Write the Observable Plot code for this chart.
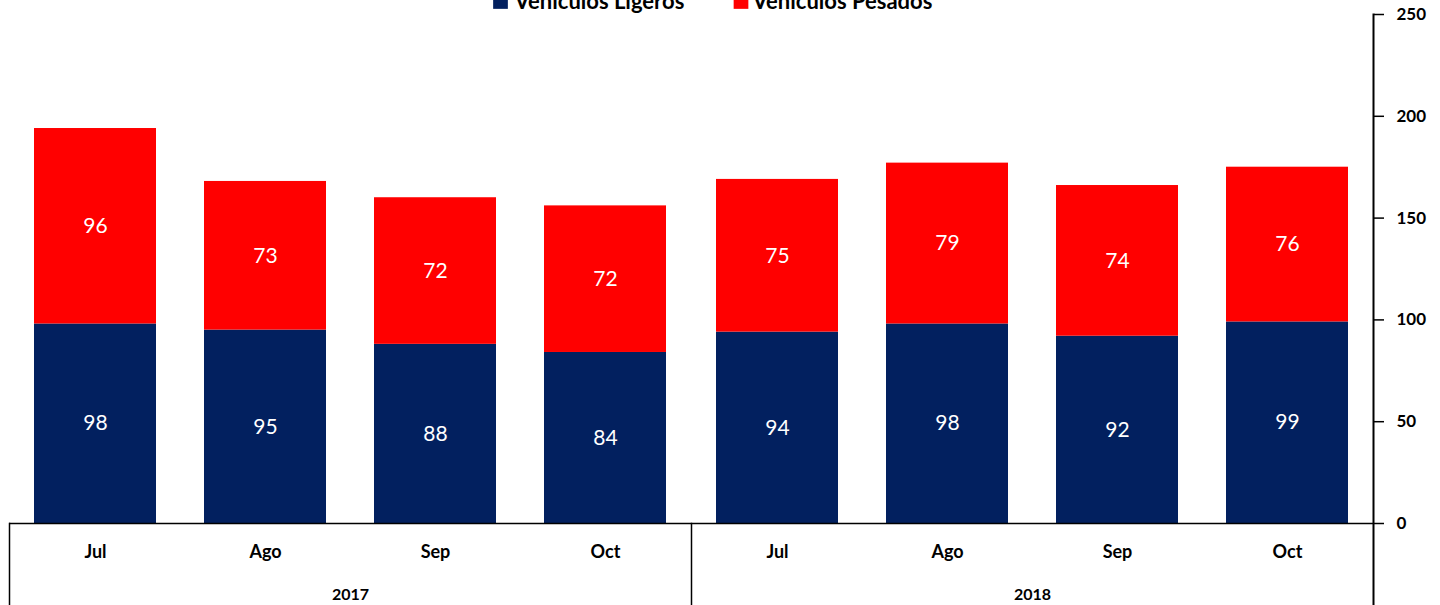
<!DOCTYPE html>
<html>
<head>
<meta charset="utf-8">
<script src="https://cdn.jsdelivr.net/npm/d3@7"></script>
<script src="https://cdn.jsdelivr.net/npm/@observablehq/plot@0.6"></script>
<style>
  html, body { margin: 0; padding: 0; background: white; overflow: hidden; }
  svg { font-family: Lato, "Open Sans", sans-serif; }
</style>
</head>
<body>
<div id="chart"></div>
<script>
const years = ["2017", "2017", "2017", "2017", "2018", "2018", "2018", "2018"];
const months = ["Jul", "Ago", "Sep", "Oct", "Jul", "Ago", "Sep", "Oct"];
const ligeros = [98, 95, 88, 84, 94, 98, 92, 99];
const pesados = [96, 73, 72, 72, 75, 79, 74, 76];
const seriesNames = ["Vehículos Ligeros", "Vehículos Pesados"];
const seriesColors = ["#02205F", "#FF0000"];
const yTicks = [0, 50, 100, 150, 200, 250];

const rows = [];
months.forEach((m, i) => {
  rows.push({year: years[i], month: m, serie: seriesNames[0], value: ligeros[i]});
  rows.push({year: years[i], month: m, serie: seriesNames[1], value: pesados[i]});
});

// legend placement offsets (px) relative to the top-centre of the frame
const legendSquareDx = [-191, 49.5];
const legendTextDx = [-177, 61];
const legendMarks = seriesNames.flatMap((s, i) => [
  Plot.dot([s], {facet: "super", frameAnchor: "top", symbol: "square", r: 8.3,
    dx: legendSquareDx[i], dy: -13, fill: seriesColors[i]}),
  Plot.text([s], {facet: "super", frameAnchor: "top", text: d => d, textAnchor: "start",
    lineAnchor: "middle", dx: legendTextDx[i], dy: -13, fontSize: 22, fontWeight: "bold", fill: "black"})
]);

const chart = Plot.plot({
  width: 1440,
  height: 605,
  marginLeft: 9,
  marginRight: 67,
  marginTop: 14,
  marginBottom: 82,
  style: {fontFamily: "Lato, 'Open Sans', sans-serif", overflow: "visible"},
  fx: {domain: ["2017", "2018"], padding: 0, label: null},
  x: {domain: ["Jul", "Ago", "Sep", "Oct"], paddingInner: 0.285, paddingOuter: 0.1425, label: null},
  y: {domain: [0, 250], label: null},
  color: {domain: seriesNames, range: seriesColors},
  marks: [
    Plot.barY(rows, {fx: "year", x: "month", y: "value", fill: "serie", order: seriesNames}),
    Plot.text(rows, Plot.stackY({fx: "year", x: "month", y: "value", z: "serie", order: seriesNames,
      text: "value", fill: "white", fontSize: 21})),
    Plot.ruleY([0], {stroke: "black", strokeWidth: 1.5}),
    Plot.frame({anchor: "left", insetTop: 509, insetBottom: -82, stroke: "black", strokeWidth: 1.5}),
    Plot.frame({anchor: "right", facet: "super", insetBottom: -82, stroke: "black", strokeWidth: 2}),
    Plot.axisX({tickSize: 0, tickPadding: 22, fontSize: 18, fontWeight: "bold", label: null}),
    Plot.axisFx({anchor: "bottom", tickSize: 0, tickPadding: 65, fontSize: 16, fontWeight: "bold", label: null}),
    Plot.axisY({anchor: "right", ticks: yTicks, tickSize: 10, tickPadding: 13, strokeWidth: 1.5,
      fontSize: 17, fontWeight: "bold", label: null, letterSpacing: "2px"}),
    ...legendMarks
  ]
});
document.getElementById("chart").appendChild(chart);
</script>
</body>
</html>
